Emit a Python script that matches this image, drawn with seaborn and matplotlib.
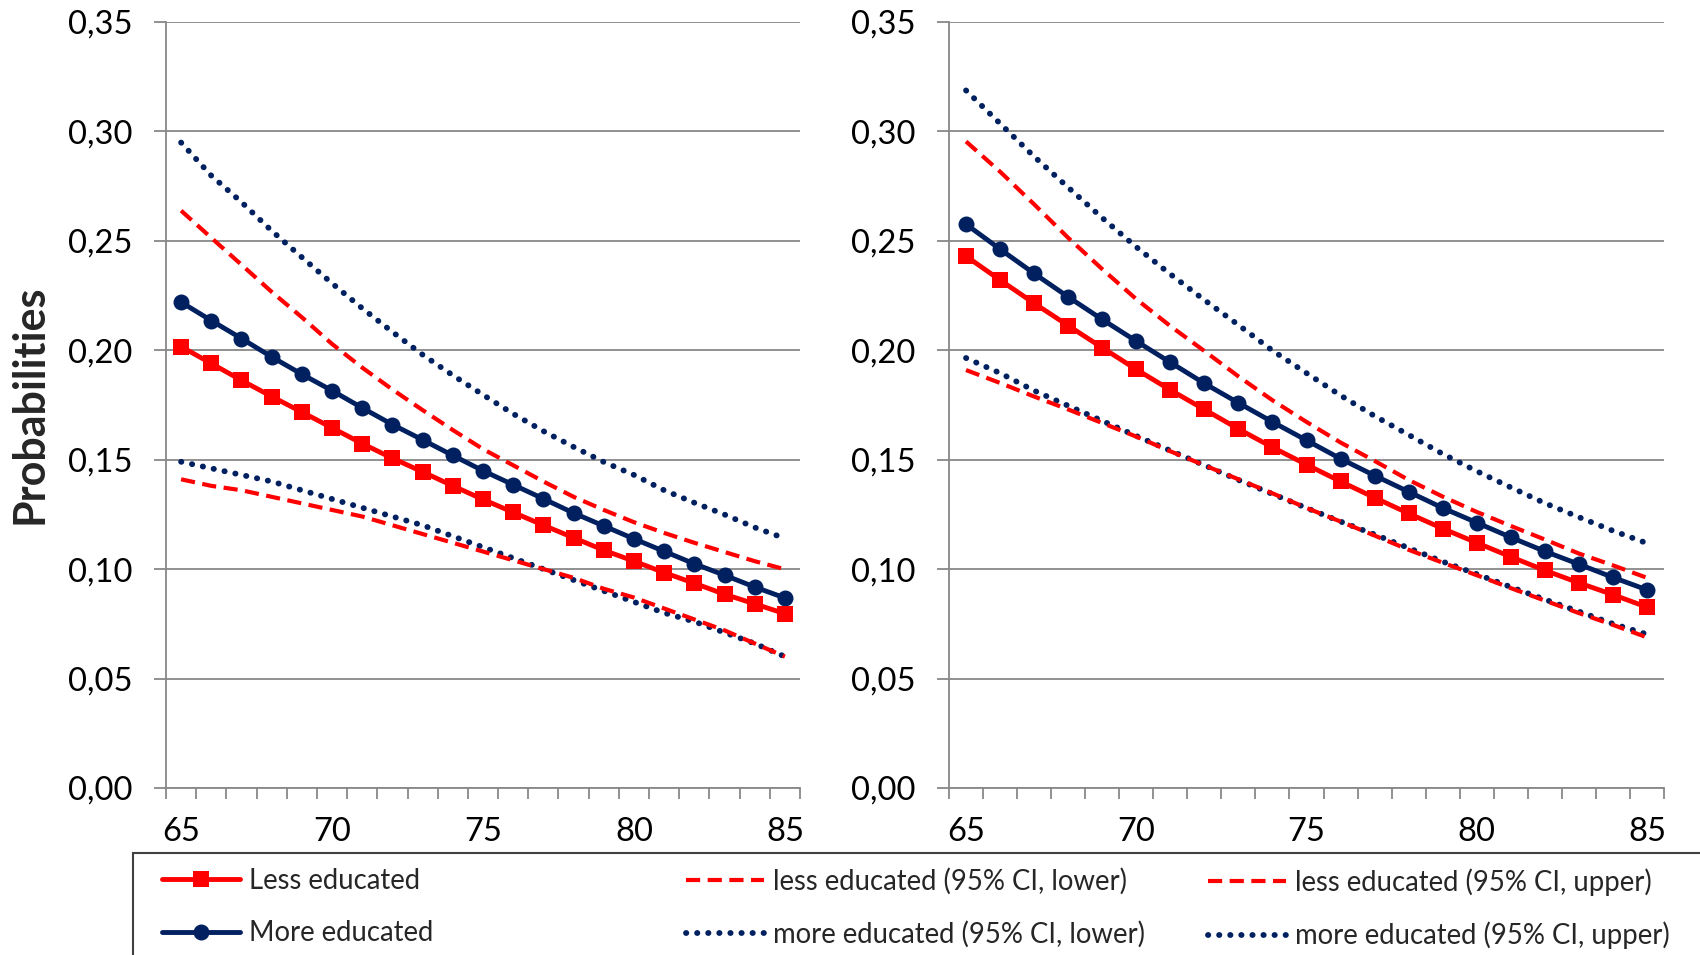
import numpy as np
import pandas as pd
import matplotlib
matplotlib.use("Agg")
import matplotlib.pyplot as plt
import seaborn as sns
from matplotlib.lines import Line2D
from matplotlib.patches import Rectangle
from matplotlib.ticker import FuncFormatter, FixedLocator

ages = list(range(65, 86))

# Left panel
left_less = [0.2016, 0.1939, 0.1862, 0.1788, 0.1717, 0.1645, 0.1573, 0.1506, 0.1444, 0.1380, 0.1318,
             0.1259, 0.1200, 0.1143, 0.1086, 0.1036, 0.0984, 0.0935, 0.0885, 0.0841, 0.0796]
left_more = [0.2219, 0.2135, 0.2053, 0.1969, 0.1890, 0.1815, 0.1736, 0.1660, 0.1590, 0.1519, 0.1449,
             0.1385, 0.1321, 0.1256, 0.1197, 0.1138, 0.1081, 0.1024, 0.0972, 0.0918, 0.0868]
left_less_lo = [0.141, 0.138, 0.136, 0.133, 0.130, 0.127, 0.124, 0.120, 0.116, 0.112, 0.108,
                0.104, 0.100, 0.096, 0.091, 0.087, 0.082, 0.077, 0.072, 0.066, 0.060]
left_less_hi = [0.2637, 0.2513, 0.2390, 0.2266, 0.2150, 0.2028, 0.1920, 0.1820, 0.1726, 0.1635, 0.1548,
                0.1474, 0.1400, 0.1330, 0.1270, 0.1214, 0.1165, 0.1120, 0.1078, 0.1036, 0.0999]
left_more_lo = [0.149, 0.146, 0.143, 0.140, 0.136, 0.132, 0.128, 0.124, 0.120, 0.115, 0.110,
                0.105, 0.100, 0.095, 0.090, 0.085, 0.080, 0.076, 0.071, 0.066, 0.060]
left_more_hi = [0.2948, 0.2797, 0.2676, 0.2545, 0.2424, 0.2305, 0.2191, 0.2083, 0.1979, 0.1885, 0.1796,
                0.1709, 0.1630, 0.1558, 0.1489, 0.1430, 0.1360, 0.1303, 0.1249, 0.1190, 0.1140]

# Right panel
right_less = [0.2429, 0.2320, 0.2214, 0.2112, 0.2011, 0.1912, 0.1818, 0.1729, 0.1640, 0.1556, 0.1477,
              0.1400, 0.1326, 0.1254, 0.1185, 0.1120, 0.1056, 0.0994, 0.0937, 0.0883, 0.0826]
right_more = [0.2575, 0.2461, 0.2350, 0.2243, 0.2140, 0.2041, 0.1944, 0.1848, 0.1759, 0.1672, 0.1588,
              0.1504, 0.1427, 0.1353, 0.1279, 0.1212, 0.1145, 0.1081, 0.1022, 0.0962, 0.0905]
right_less_lo = [0.1909, 0.1850, 0.1788, 0.1729, 0.1667, 0.1605, 0.1538, 0.1474, 0.1410, 0.1346, 0.1279,
                 0.1217, 0.1153, 0.1088, 0.1029, 0.0972, 0.0913, 0.0856, 0.0799, 0.0745, 0.0688]
right_less_hi = [0.2953, 0.2815, 0.2666, 0.2513, 0.2370, 0.2233, 0.2110, 0.1996, 0.1880, 0.1771, 0.1672,
                 0.1578, 0.1494, 0.1407, 0.1331, 0.1261, 0.1197, 0.1135, 0.1071, 0.1017, 0.0960]
right_more_lo = [0.1964, 0.1895, 0.1815, 0.1746, 0.1677, 0.1608, 0.1541, 0.1474, 0.1407, 0.1343, 0.1279,
                 0.1217, 0.1158, 0.1096, 0.1034, 0.0977, 0.0918, 0.0861, 0.0806, 0.0750, 0.0702]
right_more_hi = [0.3186, 0.3035, 0.2884, 0.2743, 0.2604, 0.2471, 0.2347, 0.2229, 0.2115, 0.1998, 0.1895,
                 0.1793, 0.1699, 0.1613, 0.1526, 0.1447, 0.1373, 0.1301, 0.1237, 0.1175, 0.1118]

y_ticks = [0.00, 0.05, 0.10, 0.15, 0.20, 0.25, 0.30, 0.35]
x_labels = [65, 70, 75, 80, 85]

labels = ["Less educated", "More educated",
          "less educated (95% CI, lower)", "more educated (95% CI, lower)",
          "less educated (95% CI, upper)", "more educated (95% CI, upper)"]

RED = "#FF0000"
NAVY = "#002060"
GRID = "#888888"

sns.set_theme(style="white")
plt.rcParams["font.family"] = ["Lato", "DejaVu Sans"]

fig = plt.figure(figsize=(17, 9.55), dpi=100)
W, H = 1700, 955
bottom = 1 - 788 / H
height = (788 - 21.7) / H
ax1 = fig.add_axes([166 / W, bottom, (800 - 166) / W, height])
ax2 = fig.add_axes([949 / W, bottom, (1664 - 949) / W, height])

dash_style = dict(color=RED, linewidth=3.0, linestyle=(0, (3.4, 1.8)), dash_capstyle="butt")
dot_style = dict(color=NAVY, linewidth=4.2, linestyle=(0, (0.05, 1.85)), dash_capstyle="round")

def draw(ax, less, more, less_lo, less_hi, more_lo, more_hi):
    df = pd.DataFrame({"age": ages, "less": less, "more": more, "less_lo": less_lo,
                       "less_hi": less_hi, "more_lo": more_lo, "more_hi": more_hi})
    sns.lineplot(data=df, x="age", y="more_hi", ax=ax, **dot_style)
    sns.lineplot(data=df, x="age", y="more_lo", ax=ax, **dot_style)
    sns.lineplot(data=df, x="age", y="less_hi", ax=ax, **dash_style)
    sns.lineplot(data=df, x="age", y="less_lo", ax=ax, **dash_style)
    sns.lineplot(data=df, x="age", y="more", ax=ax, color=NAVY, linewidth=3.5,
                 marker="o", markersize=11.5, markeredgewidth=0, markeredgecolor=NAVY)
    sns.lineplot(data=df, x="age", y="less", ax=ax, color=RED, linewidth=3.5,
                 marker="s", markersize=11.5, markeredgewidth=0, markeredgecolor=RED)
    ax.set_xlim(64.5, 85.5)
    ax.set_ylim(0, 0.35)
    ax.set_xlabel("")
    ax.set_ylabel("")
    ax.yaxis.set_major_locator(FixedLocator(y_ticks))
    ax.yaxis.set_major_formatter(FuncFormatter(lambda v, p: f"{v:.2f}".replace(".", ",")))
    ax.xaxis.set_major_locator(FixedLocator(x_labels))
    ax.xaxis.set_minor_locator(FixedLocator(np.arange(64.5, 86, 1.0)))
    ax.grid(axis="y", color=GRID, linewidth=1.3)
    ax.grid(axis="x", visible=False)
    ax.set_axisbelow(True)
    for s in ["top", "right"]:
        ax.spines[s].set_visible(False)
    for s in ["left", "bottom"]:
        ax.spines[s].set_visible(True)
        ax.spines[s].set_color(GRID)
        ax.spines[s].set_linewidth(1.3)
    ax.tick_params(axis="y", which="major", direction="out", length=9, width=1.3,
                   color=GRID, labelsize=23.5, pad=15, labelcolor="black", left=True)
    ax.tick_params(axis="x", which="major", length=0, labelsize=23.5, pad=21, labelcolor="black")
    ax.tick_params(axis="x", which="minor", direction="out", length=8, width=1.3,
                   color=GRID, bottom=True)

draw(ax1, left_less, left_more, left_less_lo, left_less_hi, left_more_lo, left_more_hi)
draw(ax2, right_less, right_more, right_less_lo, right_less_hi, right_more_lo, right_more_hi)

fig.text(30 / W, 1 - 404 / H, "Probabilities", rotation=90, fontsize=31, fontweight="bold",
         ha="center", va="center")

# Legend
h_less = Line2D([], [], color=RED, linewidth=3.5, marker="s", markersize=11.5, markeredgewidth=0)
h_more = Line2D([], [], color=NAVY, linewidth=3.5, marker="o", markersize=11.5, markeredgewidth=0)
h_dash = Line2D([], [], **dash_style)
h_dot = Line2D([], [], **dot_style)

leg_kw = dict(frameon=False, fontsize=19.8, handlelength=2.85, handletextpad=0.3,
              labelspacing=0.95, borderpad=0, borderaxespad=0, loc="upper left", numpoints=1)
top_y = 1 - 868 / H
fig.legend([h_less, h_more], labels[0:2], bbox_to_anchor=(162 / W, top_y), **leg_kw)
fig.legend([h_dash, h_dot], labels[2:4], bbox_to_anchor=(686 / W, top_y), **leg_kw)
fig.legend([h_dash, h_dot], labels[4:6], bbox_to_anchor=(1208 / W, top_y), **leg_kw)

fig.patches.append(Rectangle((133 / W, -0.05), 1.0, (955 - 853) / H + 0.05,
                             transform=fig.transFigure, fill=False, edgecolor="#404040",
                             linewidth=1.5, clip_on=False))

fig.savefig("out.png", dpi=100)
